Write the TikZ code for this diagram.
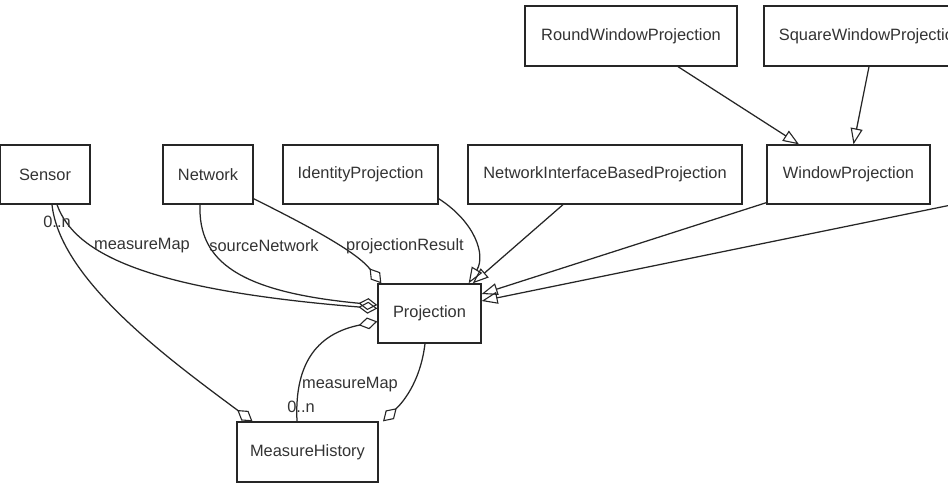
\documentclass[tikz,border=0pt]{standalone}
\usepackage{fontspec}
\setmainfont{Liberation Sans}
\usetikzlibrary{arrows.meta}
\tikzset{
  cls/.style={draw=black!85, line width=1.3pt, rectangle, inner sep=0pt, fill=white,
    font=\fontsize{16.4}{19}\selectfont, text=black!80},
  lbl/.style={inner sep=0pt, font=\fontsize{16.4}{19}\selectfont, text=black!80},
  conn/.style={draw=black!85, line width=1.25pt},
  agg/.style={conn, -{Diamond[open, length=19pt, width=12pt, line width=1.1pt]}},
  gen/.style={conn, -{Triangle[open, length=16pt, width=12pt, line width=1.1pt]}}
}
\begin{document}
\begin{tikzpicture}[x=1pt, y=-1pt]
\useasboundingbox (0,0) rectangle (948,498);
\clip (0,0) rectangle (948,498);
\fill[white] (0,0) rectangle (948,498);

\node[cls, minimum width=90pt, minimum height=59pt] (sensor) at (45,174.5) {Sensor};
\node[cls, minimum width=90pt, minimum height=59pt] (network) at (208,174.5) {Network};
\node[cls, minimum width=155pt, minimum height=59pt] (identity) at (360.5,174.5) {IdentityProjection};
\node[cls, minimum width=274pt, minimum height=59pt] (nibp) at (605,174.5) {NetworkInterfaceBasedProjection};
\node[cls, minimum width=163pt, minimum height=59pt] (window) at (848.5,174.5) {WindowProjection};
\node[cls, minimum width=212pt, minimum height=60pt] (round) at (631,36) {RoundWindowProjection};
\node[cls, minimum width=214pt, minimum height=60pt] (square) at (871,36) {SquareWindowProjection};
\node[cls, minimum width=103pt, minimum height=59pt] (proj) at (429.5,313.5) {Projection};
\node[cls, minimum width=141pt, minimum height=60pt] (hist) at (307.5,452) {MeasureHistory};
\coordinate (offright) at (1000,195);

% aggregations
\path[agg] ([xshift=7pt]sensor.south) .. controls (60,280) and (170,360) .. ([xshift=-55pt]hist.north);
\path[agg] ([xshift=12pt]sensor.south) .. controls (75,255) and (150,290) .. ([yshift=5pt]proj.west);
\path[agg] ([xshift=-8pt]network.south) .. controls (198,262) and (240,292) .. ([yshift=8.5pt]proj.west);
\path[agg] ([yshift=6pt]network.south east) .. controls (300,222) and (355,250) .. ([xshift=4pt]proj.north west);
\path[agg] ([xshift=-4.5pt]proj.south) .. controls (420,385) and (400,405) .. ([xshift=75.5pt]hist.north);
\path[agg] ([xshift=-10.5pt]hist.north) .. controls (294,360) and (320,333) .. ([yshift=-8pt]proj.west);

% generalizations
\path[gen] ([yshift=6pt]identity.south east) .. controls (475,222) and (486,255) .. ([xshift=-13pt]proj.north east);
\path[gen] ([xshift=-42pt]nibp.south) -- ([xshift=-9pt]proj.north east);
\path[gen] ([yshift=2pt]window.south west) -- ([yshift=19.5pt]proj.east);
\path[gen] (offright) -- ([yshift=12.5pt]proj.east);
\path[gen] ([xshift=47pt]round.south) -- ([xshift=-49.5pt]window.north);
\path[gen] ([xshift=-2pt]square.south) -- ([xshift=5pt]window.north);

% labels
\node[lbl] (l1) at (57,222) {0..n};
\node[lbl] (l2) at (142,246) {measureMap};
\node[lbl] (l3) at (264,246) {sourceNetwork};
\node[lbl] (l4) at (405,246) {projectionResult};
\node[lbl] (l5) at (350,385) {measureMap};
\node[lbl] (l6) at (301,407) {0..n};
\end{tikzpicture}
\end{document}
